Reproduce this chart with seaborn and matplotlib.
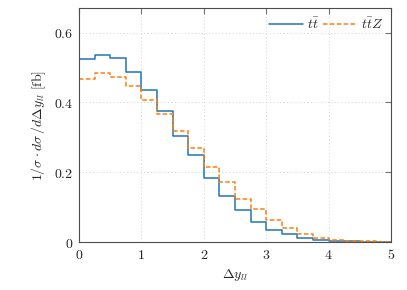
import numpy as np
import pandas as pd
import seaborn as sns
import matplotlib.pyplot as plt
from matplotlib.lines import Line2D

# bin edges of delta y_ll
edges = [0.0, 0.25, 0.5, 0.75, 1.0, 1.25, 1.5, 1.75, 2.0, 2.25, 2.5,
         2.75, 3.0, 3.25, 3.5, 3.75, 4.0, 4.25, 4.5, 4.75, 5.0]

# normalised distributions
tt = [0.525, 0.537, 0.528, 0.488, 0.436, 0.376, 0.305, 0.250, 0.184, 0.132,
      0.092, 0.058, 0.034, 0.022, 0.012, 0.006, 0.003, 0.002, 0.001, 0.001]
ttz = [0.468, 0.484, 0.473, 0.446, 0.407, 0.367, 0.317, 0.269, 0.214, 0.171,
       0.124, 0.095, 0.063, 0.039, 0.022, 0.012, 0.006, 0.004, 0.002, 0.001]

labels = [r'$t\bar{t}$', r'$t\bar{t}Z$']

sns.set_style("white")
plt.rcParams['mathtext.fontset'] = 'cm'
plt.rcParams['font.family'] = ['DejaVu Serif']

rows = []
for lab, vals in zip(labels, [tt, ttz]):
    ys = list(vals) + [vals[-1]]
    for x, y in zip(edges, ys):
        rows.append({'x': x, 'y': y, 'sample': lab})
df = pd.DataFrame(rows)

fig = plt.figure(figsize=(4.07, 2.90), dpi=100)
ax = fig.add_axes([0.194, 0.1655, 0.767, 0.8065])

sns.lineplot(data=df, x='x', y='y', hue='sample', style='sample',
             palette=['#1f77b4', '#ff7f0e'], dashes=[(None, None), (3, 1.5)],
             drawstyle='steps-post', linewidth=1.1, ax=ax, legend=False)

ax.set_xlim(0, 5)
ax.set_ylim(0, 0.67)
ax.set_xticks([0, 1, 2, 3, 4, 5])
ax.set_xticklabels([f'${t}$' for t in [0, 1, 2, 3, 4, 5]])
ax.set_yticks([0, 0.2, 0.4, 0.6])
ax.set_yticklabels(['$0$', '$0.2$', '$0.4$', '$0.6$'])
ax.tick_params(direction='in', top=True, right=True, length=4,
               color='0.45', labelsize=10, pad=4)
ax.grid(True, linestyle=(0, (1, 2.5)), color='0.82', linewidth=0.7)
for s in ax.spines.values():
    s.set_color('0.3')
    s.set_linewidth(0.8)

ax.set_xlabel(r'$\Delta y_{ll}$', fontsize=10)
ax.set_ylabel(r'$1/\sigma \cdot d\sigma\, / d\Delta y_{ll}\ [\mathrm{fb}]$', fontsize=10)

handles = [Line2D([], [], color='#1f77b4', lw=1.1),
           Line2D([], [], color='#ff7f0e', lw=1.1, dashes=(3, 1.5))]
ax.legend(handles, labels, loc='upper right', ncol=2, frameon=False,
          fontsize=10, handlelength=2.4, columnspacing=0.3, handletextpad=0.3,
          borderaxespad=0.2)

fig.savefig('out.png', dpi=100)
